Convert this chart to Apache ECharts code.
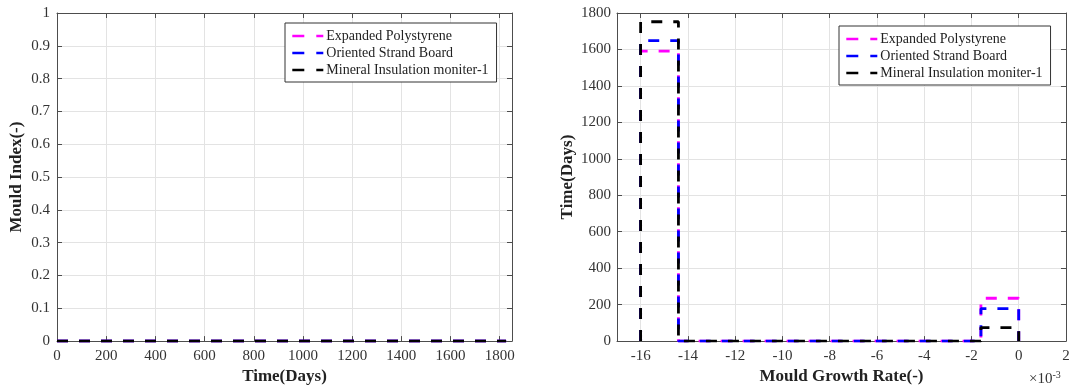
<!DOCTYPE html>
<html>
<head>
<meta charset="utf-8">
<script src="https://cdn.jsdelivr.net/npm/echarts@6/dist/echarts.min.js"></script>
<style>
  html, body { margin: 0; padding: 0; background: #fff; }
  #chart { width: 1074px; height: 390px; }
</style>
</head>
<body>
<div id="chart"></div>
<script>
// ---------------- data ----------------
const seriesNames = ['Expanded Polystyrene', 'Oriented Strand Board', 'Mineral Insulation moniter-1'];
const seriesColors = ['#ff00ff', '#0000ff', '#000000'];

// Left chart: Mould Index over time (all zero)
const days = [0, 1826];
const mouldIndexEPS = [0, 0];
const mouldIndexOSB = [0, 0];
const mouldIndexMIN = [0, 0];

// Right chart: histogram of mould growth rate (x in units of 1e-3)
const binEdges = [-16, -14.4, -12.8, -11.2, -9.6, -8, -6.4, -4.8, -3.2, -1.6, 0];
const countsEPS = [1591, 0, 0, 0, 0, 0, 0, 0, 0, 235];
const countsOSB = [1648, 0, 0, 0, 0, 0, 0, 0, 0, 178];
const countsMIN = [1752, 0, 0, 0, 0, 0, 0, 0, 0, 74];

// Tick labels
const leftXTicks = [0, 200, 400, 600, 800, 1000, 1200, 1400, 1600, 1800];
const leftYTicks = [0, 0.1, 0.2, 0.3, 0.4, 0.5, 0.6, 0.7, 0.8, 0.9, 1];
const rightXTicks = [-16, -14, -12, -10, -8, -6, -4, -2, 0, 2];
const rightYTicks = [0, 200, 400, 600, 800, 1000, 1200, 1400, 1600, 1800];

// ---------------- helpers ----------------
function pairs(xs, ys) { return xs.map((x, i) => [x, ys[i]]); }
function stairs(edges, counts) {
  const pts = [[edges[0], 0]];
  counts.forEach((c, i) => { pts.push([edges[i], c]); pts.push([edges[i + 1], c]); });
  pts.push([edges[edges.length - 1], 0]);
  return pts;
}
const plain = v => String(v);

const FONT = 'Liberation Serif';
const AX = '#4d4d4d';
const GRIDC = '#e3e3e3';
const DASH = [11, 11];
const LW = 2.8;

function mainX(gi, min, max, ticks, name) {
  return {
    type: 'value', gridIndex: gi, min: min, max: max, position: 'bottom',
    name: name, nameLocation: 'middle', nameGap: 24,
    nameTextStyle: { fontFamily: FONT, fontSize: 17, fontWeight: 'bold', color: '#222' },
    axisLine: { show: true, onZero: false, lineStyle: { color: AX, width: 1 } },
    axisTick: { show: true, inside: true, length: 5, customValues: ticks, lineStyle: { color: AX } },
    axisLabel: { customValues: ticks, formatter: plain, margin: 7, fontFamily: FONT, fontSize: 15, color: '#333' },
    splitLine: { show: true, lineStyle: { color: GRIDC, width: 1 } }
  };
}
function topX(gi, min, max, ticks) {
  return {
    type: 'value', gridIndex: gi, min: min, max: max, position: 'top',
    axisLine: { show: true, onZero: false, lineStyle: { color: AX, width: 1 } },
    axisTick: { show: true, inside: true, length: 5, customValues: ticks, lineStyle: { color: AX } },
    axisLabel: { show: false, customValues: ticks },
    splitLine: { show: false }
  };
}
function mainY(gi, min, max, ticks, name, gap, margin) {
  return {
    type: 'value', gridIndex: gi, min: min, max: max, position: 'left',
    name: name, nameLocation: 'middle', nameGap: gap,
    nameTextStyle: { fontFamily: FONT, fontSize: 17, fontWeight: 'bold', color: '#222' },
    axisLine: { show: true, onZero: false, lineStyle: { color: AX, width: 1 } },
    axisTick: { show: true, inside: true, length: 5, customValues: ticks, lineStyle: { color: AX } },
    axisLabel: { customValues: ticks, formatter: plain, margin: margin, fontFamily: FONT, fontSize: 15, color: '#333' },
    splitLine: { show: true, lineStyle: { color: GRIDC, width: 1 } }
  };
}
function rightY(gi, min, max, ticks) {
  return {
    type: 'value', gridIndex: gi, min: min, max: max, position: 'right',
    axisLine: { show: true, onZero: false, lineStyle: { color: AX, width: 1 } },
    axisTick: { show: true, inside: true, length: 5, customValues: ticks, lineStyle: { color: AX } },
    axisLabel: { show: false, customValues: ticks },
    splitLine: { show: false }
  };
}
function lineSeries(name, color, data, xi, yi) {
  return {
    type: 'line', name: name, xAxisIndex: xi, yAxisIndex: yi, data: data,
    symbol: 'none', showSymbol: false, animation: false, silent: true,
    lineStyle: { color: color, width: LW, type: DASH, cap: 'butt' },
    itemStyle: { color: color }
  };
}
function legendAt(left, top) {
  return {
    orient: 'vertical', left: left, top: top, data: seriesNames,
    itemWidth: 31, itemHeight: 14, itemGap: 3, padding: [6, 8, 5, 6],
    backgroundColor: '#fff', borderColor: '#333', borderWidth: 1, borderRadius: 0,
    itemStyle: { opacity: 0, borderWidth: 0 },
    lineStyle: { width: 2.6, type: [12, 12], cap: 'butt', opacity: 1 },
    textStyle: { fontFamily: FONT, fontSize: 14, color: '#222', padding: [0, 0, 0, -2] },
    selectedMode: false
  };
}

const option = {
  backgroundColor: '#fff',
  animation: false,
  grid: [
    { left: 57, top: 13, width: 455, height: 331 },
    { left: 617, top: 13, width: 449, height: 330 }
  ],
  xAxis: [
    mainX(0, 0, 1850, leftXTicks, 'Time(Days)'),
    topX(0, 0, 1850, leftXTicks),
    mainX(1, -17, 2, rightXTicks, 'Mould Growth Rate(-)'),
    topX(1, -17, 2, rightXTicks)
  ],
  yAxis: [
    mainY(0, 0, 1, leftYTicks, 'Mould Index(-)', 32, 7),
    rightY(0, 0, 1, leftYTicks),
    mainY(1, 0, 1800, rightYTicks, 'Time(Days)', 41, 6),
    rightY(1, 0, 1800, rightYTicks)
  ],
  legend: [legendAt(285, 23), legendAt(839, 26)],
  series: [
    lineSeries(seriesNames[0], seriesColors[0], pairs(days, mouldIndexEPS), 0, 0),
    lineSeries(seriesNames[1], seriesColors[1], pairs(days, mouldIndexOSB), 0, 0),
    lineSeries(seriesNames[2], seriesColors[2], pairs(days, mouldIndexMIN), 0, 0),
    lineSeries(seriesNames[0], seriesColors[0], stairs(binEdges, countsEPS), 2, 2),
    lineSeries(seriesNames[1], seriesColors[1], stairs(binEdges, countsOSB), 2, 2),
    lineSeries(seriesNames[2], seriesColors[2], stairs(binEdges, countsMIN), 2, 2)
  ],
  graphic: [{
    type: 'text', left: 1029, top: 370,
    style: {
      text: '×10{sup|-3}',
      fontFamily: FONT, fontSize: 15, fill: '#333',
      rich: { sup: { fontFamily: FONT, fontSize: 10, fill: '#333', verticalAlign: 'top', padding: [0, 0, 8, 0] } }
    }
  }]
};

const chart = echarts.init(document.getElementById('chart'), null, { renderer: 'canvas' });
chart.setOption(option);
</script>
</body>
</html>
